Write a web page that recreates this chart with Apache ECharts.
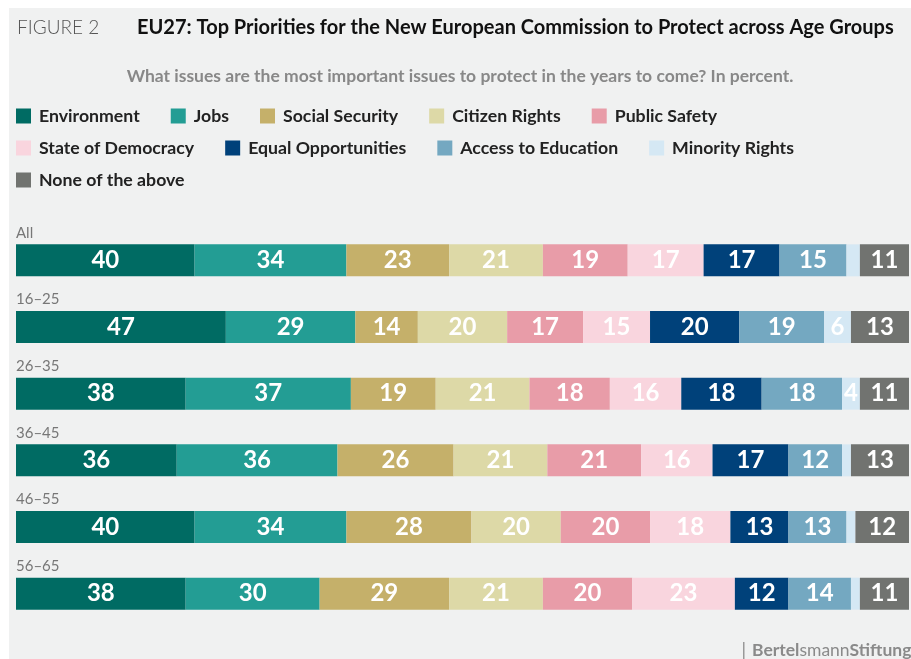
<!DOCTYPE html>
<html>
<head>
    <meta charset="utf-8">
    <title>EU27 priorities</title>
    <script src="https://cdn.jsdelivr.net/npm/echarts@6/dist/echarts.min.js"></script>
    <style>
        html, body { margin: 0; padding: 0; background: #ffffff; }
        #chart { position: absolute; left: 9px; top: 8px; width: 902px; height: 651px; background: #f0f1f1; }
    </style>
</head>
<body>
<div id="chart"></div>
<script>
    // age groups, top to bottom
    var groups = ['All', '16–25', '26–35', '36–45', '46–55', '56–65'];

    // issue names, in stack order
    var issues = ['Environment', 'Jobs', 'Social Security', 'Citizen Rights', 'Public Safety',
        'State of Democracy', 'Equal Opportunities', 'Access to Education', 'Minority Rights', 'None of the above'];

    // values per issue, one per age group (percent)
    var environment = [40, 47, 38, 36, 40, 38];
    var jobs = [34, 29, 37, 36, 34, 30];
    var socialSecurity = [23, 14, 19, 26, 28, 29];
    var citizenRights = [21, 20, 21, 21, 20, 21];
    var publicSafety = [19, 17, 18, 21, 20, 20];
    var stateOfDemocracy = [17, 15, 16, 16, 18, 23];
    var equalOpportunities = [17, 20, 18, 17, 13, 12];
    var accessToEducation = [15, 19, 18, 12, 13, 14];
    var minorityRights = [3, 6, 4, 2, 2, 2];
    var noneOfTheAbove = [11, 13, 11, 13, 12, 11];

    var values = [environment, jobs, socialSecurity, citizenRights, publicSafety,
        stateOfDemocracy, equalOpportunities, accessToEducation, minorityRights, noneOfTheAbove];

    var colors = ['#006b63', '#239d94', '#c5b06a', '#ddd9a7', '#e89ca8',
        '#f9d5de', '#00417a', '#74a8c1', '#d5e8f4', '#717370'];

    var font = 'Lato, "Open Sans", sans-serif';

    var series = issues.map(function (name, i) {
        return {
            name: name,
            type: 'bar',
            stack: 'total',
            barWidth: 32,
            data: values[i],
            itemStyle: { color: colors[i] },
            label: {
                show: true,
                position: 'inside',
                color: '#ffffff',
                fontFamily: font,
                fontWeight: 'bold',
                fontSize: 24,
                formatter: function (p) { return p.value < 4 ? '' : p.value; }
            },
            emphasis: { disabled: true }
        };
    });

    function legendRow(items, top) {
        return {
            data: items,
            left: 2,
            top: top,
            orient: 'horizontal',
            icon: 'rect',
            itemWidth: 15,
            itemHeight: 15,
            itemGap: 31,
            selectedMode: false,
            textStyle: {
                fontFamily: font,
                fontWeight: 'bold',
                fontSize: 17.7,
                color: '#222222',
                padding: [0, 0, 0, 3]
            }
        };
    }

    var myChart = echarts.init(document.getElementById('chart'));
    var option = {
        animation: false,
        title: [
            {
                text: 'FIGURE 2',
                left: 3,
                top: 5,
                textStyle: { fontFamily: font, fontWeight: 300, fontSize: 19, color: '#555555' }
            },
            {
                text: 'EU27: Top Priorities for the New European Commission to Protect across Age Groups',
                left: 123,
                top: 5,
                textStyle: { fontFamily: font, fontWeight: 'bold', fontSize: 20, color: '#111111' }
            },
            {
                text: 'What issues are the most important issues to protect in the years to come? In percent.',
                left: 'center',
                top: 54,
                textStyle: { fontFamily: font, fontWeight: 'bold', fontSize: 17.5, color: '#888888' }
            }
        ],
        legend: [
            legendRow(issues.slice(0, 5), 94),
            legendRow(issues.slice(5, 9), 126),
            legendRow(issues.slice(9), 158)
        ],
        grid: {
            left: 7,
            right: 2,
            top: 219,
            bottom: 32,
            containLabel: false
        },
        xAxis: {
            type: 'value',
            min: 0,
            max: 200,
            show: false
        },
        yAxis: {
            type: 'category',
            data: groups,
            inverse: true,
            axisLine: { show: false },
            axisTick: { show: false },
            axisLabel: {
                inside: true,
                margin: 0,
                verticalAlign: 'bottom',
                padding: [0, 0, 20, 0],
                fontFamily: font,
                fontSize: 15,
                color: '#777777'
            }
        },
        series: series,
        graphic: [
            {
                type: 'rect',
                left: 734,
                top: 634,
                shape: { width: 1.5, height: 17 },
                style: { fill: '#999999' }
            },
            {
                type: 'text',
                left: 743,
                top: 633,
                style: {
                    text: '{a|Bertel}{b|smann}{a|Stiftung}',
                    rich: {
                        a: { fontFamily: font, fontSize: 17.5, fontWeight: 'bold', fill: '#8a8a8a' },
                        b: { fontFamily: font, fontSize: 17.5, fontWeight: 'normal', fill: '#8a8a8a' }
                    }
                }
            }
        ]
    };
    myChart.setOption(option);
</script>
</body>
</html>
